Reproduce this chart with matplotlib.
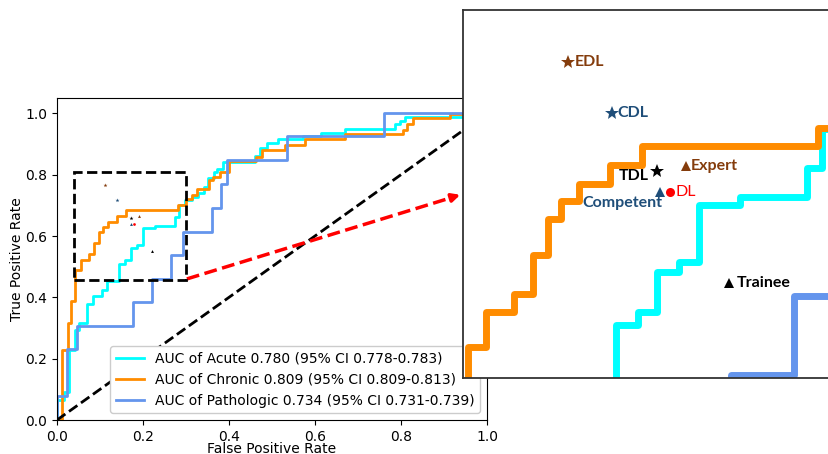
import matplotlib
matplotlib.use("Agg")
import matplotlib.pyplot as plt
from matplotlib.patches import Rectangle

# ROC staircase corners (fpr, tpr), drawn with steps-post
ACUTE_FPR = [0.0, 0.0, 0.016, 0.027, 0.043, 0.050, 0.0705, 0.0845, 0.104, 0.1155,
             0.1432, 0.158, 0.1715, 0.1862, 0.1997, 0.228, 0.2733, 0.2835, 0.298, 0.313,
             0.329, 0.342, 0.352, 0.364, 0.371, 0.387, 0.4605, 0.472, 0.488, 0.515,
             0.571, 0.614, 0.670, 0.786, 0.798, 0.809, 1.0]
ACUTE_TPR = [0.0, 0.065, 0.092, 0.228, 0.293, 0.315, 0.378, 0.404, 0.424, 0.454,
             0.5096, 0.5225, 0.5614, 0.5712, 0.6263, 0.634, 0.662, 0.700, 0.717, 0.728,
             0.741, 0.761, 0.790, 0.810, 0.820, 0.840, 0.861, 0.886, 0.902, 0.915,
             0.925, 0.937, 0.948, 0.965, 0.976, 0.989, 1.0]

CHRONIC_FPR = [0.0, 0.011, 0.025, 0.033, 0.0425, 0.055, 0.074, 0.087, 0.097, 0.106,
               0.118, 0.139, 0.161, 0.281, 0.300, 0.313, 0.325, 0.354, 0.362, 0.379,
               0.401, 0.462, 0.476, 0.530, 0.577, 0.670, 0.805, 0.815, 0.829, 0.915, 1.0]
CHRONIC_TPR = [0.0, 0.228, 0.317, 0.389, 0.4885, 0.5225, 0.540, 0.578, 0.613, 0.630,
               0.647, 0.665, 0.684, 0.701, 0.7195, 0.734, 0.752, 0.7825, 0.791, 0.810,
               0.843, 0.859, 0.879, 0.896, 0.915, 0.931, 0.946, 0.965, 0.985, 0.998, 1.0]

PATHO_FPR = [0.0, 0.0, 0.0225, 0.0457, 0.1775, 0.2217, 0.2644, 0.294, 0.360, 0.381,
             0.3946, 0.534, 0.761, 1.0]
PATHO_TPR = [0.0, 0.078, 0.230, 0.308, 0.386, 0.461, 0.538, 0.614, 0.690, 0.770,
             0.848, 0.926, 1.0, 1.0]

LABELS = [
    "AUC of Acute 0.780 (95% CI 0.778-0.783)",
    "AUC of Chronic 0.809 (95% CI 0.809-0.813)",
    "AUC of Pathologic 0.734 (95% CI 0.731-0.739)",
]
COLORS = ["aqua", "darkorange", "cornflowerblue"]

# reader / model operating points
POINT_NAMES = ["EDL", "CDL", "TDL", "Expert", "Competent", "DL", "Trainee"]
POINT_FPR = [0.1106, 0.1405, 0.171, 0.1907, 0.173, 0.180, 0.2206]
POINT_TPR = [0.7654, 0.7158, 0.659, 0.6643, 0.639, 0.639, 0.5504]

BROWN = "#843C0C"
NAVY = "#1F4E79"
POINT_STYLE = {
    "EDL": ("*", BROWN, (5, 0), "left", "bold"),
    "CDL": ("*", NAVY, (4, 0), "left", "bold"),
    "TDL": ("*", "black", (-6, -3), "right", "bold"),
    "Expert": ("^", BROWN, (4, 0), "left", "bold"),
    "Competent": ("^", NAVY, (2, -8), "right", "bold"),
    "DL": ("o", "red", (4, 0), "left", "normal"),
    "Trainee": ("^", "black", (5, 0), "left", "bold"),
}

BOX = (0.04, 0.455, 0.26, 0.355)


def draw_curves(ax, lw, with_labels=True):
    curves = [(ACUTE_FPR, ACUTE_TPR), (CHRONIC_FPR, CHRONIC_TPR), (PATHO_FPR, PATHO_TPR)]
    for (fpr, tpr), color, label in zip(curves, COLORS, LABELS):
        ax.plot(fpr, tpr, drawstyle="steps-post", color=color, lw=lw,
                label=label if with_labels else None)


def draw_points(ax, scale, annotate=False):
    for name, x, y in zip(POINT_NAMES, POINT_FPR, POINT_TPR):
        marker, color, offset, ha, weight = POINT_STYLE[name]
        ms = {"*": 10, "^": 7, "o": 6.5}[marker] * scale
        ax.plot(x, y, marker=marker, color=color, ms=ms, mew=0, ls="none", zorder=5)
        if annotate:
            ax.annotate(name, (x, y), xytext=offset, textcoords="offset points",
                        ha=ha, va="center", color=color, fontsize=11.5,
                        fontweight=weight, family=["Lato", "DejaVu Sans"])


def main():
    fig = plt.figure(figsize=(8.29, 4.54), dpi=100)

    ax = fig.add_axes([57 / 829, 34 / 454, 430 / 829, 322 / 454])
    draw_curves(ax, lw=2)
    ax.plot([0, 1], [0, 1], color="black", ls="--", lw=2)
    draw_points(ax, scale=0.3)
    ax.add_patch(Rectangle(BOX[:2], BOX[2], BOX[3], fill=False, ls="--", lw=2,
                           edgecolor="black", zorder=6))

    # red dashed pointer from the box to the zoomed view
    start = (0.302, 0.46)
    tip = (0.944, 0.737)
    ax.plot([start[0], tip[0] - 0.02], [start[1], tip[1] - 0.009], color="red", ls="--", lw=2.5)
    ax.annotate("", xy=tip, xytext=(tip[0] - 0.03, tip[1] - 0.013),
                arrowprops=dict(arrowstyle="-|>", color="red", lw=2.5, mutation_scale=12))

    ax.set_xlim(0.0, 1.0)
    ax.set_ylim(0.0, 1.05)
    ax.set_xlabel("False Positive Rate", labelpad=-1)
    ax.set_ylabel("True Positive Rate", labelpad=1)
    ax.legend(loc="lower right", fontsize=10, framealpha=1)

    # zoomed view of the dashed box, runs past the right edge of the figure
    ax_in = fig.add_axes([463 / 829, 76 / 454, 383 / 829, 368 / 454])
    ax_in.set_facecolor("white")
    draw_curves(ax_in, lw=5, with_labels=False)
    draw_points(ax_in, scale=1.0, annotate=True)
    ax_in.set_xlim(0.039, 0.30)
    ax_in.set_ylim(0.458, 0.816)
    ax_in.set_xticks([])
    ax_in.set_yticks([])
    for sp in ax_in.spines.values():
        sp.set_color("#333333")
        sp.set_linewidth(1.3)

    fig.savefig("out.png", dpi=100)
    plt.close(fig)


if __name__ == "__main__":
    main()
